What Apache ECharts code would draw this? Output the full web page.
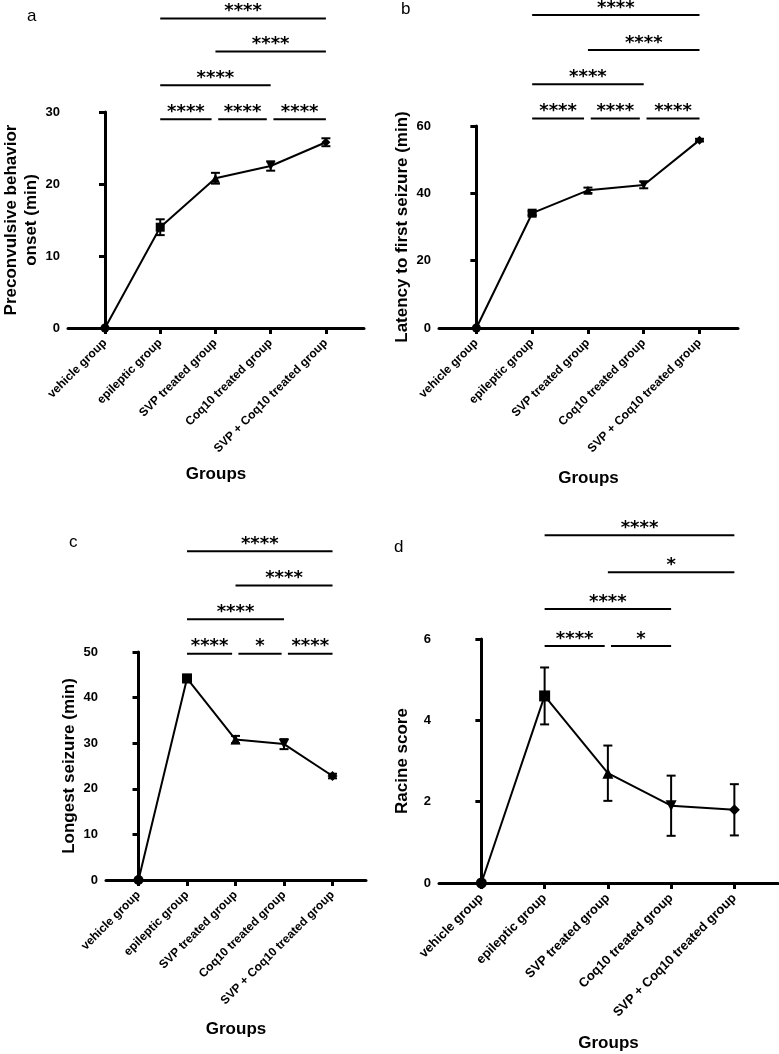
<!DOCTYPE html>
<html>
<head>
<meta charset="utf-8">
<script src="https://cdn.jsdelivr.net/npm/echarts@6/dist/echarts.min.js"></script>
<style>
  html, body { margin: 0; padding: 0; background: #fff; }
  #chart { width: 779px; height: 1054px; }
</style>
</head>
<body>
<div id="chart"></div>
<script>
// groups on the x axis (same for all four panels)
const groups = ['vehicle group', 'epileptic group', 'SVP treated group', 'Coq10 treated group', 'SVP + Coq10 treated group'];
const groupIndex = [0, 1, 2, 3, 4];

// a - preconvulsive behavior onset (min)
const onsetMean = [0, 14.0, 20.8, 22.5, 25.8];
const onsetErr = [0, 1.1, 0.75, 0.65, 0.55];
// b - latency to first seizure (min)
const latencyMean = [0, 34.1, 40.9, 42.5, 55.8];
const latencyErr = [0, 0.6, 0.8, 1.0, 0.4];
// c - longest seizure (min)
const longestMean = [0, 44.2, 30.8, 29.8, 22.8];
const longestErr = [0, 0.8, 0.8, 1.1, 0.5];
// d - racine score
const racineMean = [0, 4.6, 2.7, 1.9, 1.8];
const racineErr = [0, 0.7, 0.68, 0.74, 0.63];

// y axis ranges / tick step
const onsetAxis = [0, 30, 10];
const latencyAxis = [0, 60, 20];
const longestAxis = [0, 50, 10];
const racineAxis = [0, 6, 2];

// significance bars: [from group, to group, height (axis units), stars]
const onsetSig = [
  [1, 1.93, 29.0, '****'], [2.05, 2.93, 29.0, '****'], [3.05, 4, 29.0, '****'],
  [1, 3, 33.7, '****'], [2, 4, 38.4, '****'], [1, 4, 43.0, '****']
];
const latencySig = [
  [1, 1.93, 62.2, '****'], [2.05, 2.93, 62.2, '****'], [3.05, 4, 62.2, '****'],
  [1, 3, 72.4, '****'], [2, 4, 82.6, '****'], [1, 4, 93.0, '****']
];
const longestSig = [
  [1, 1.93, 49.6, '****'], [2.06, 2.95, 49.6, '*'], [3.08, 4, 49.6, '****'],
  [1, 3, 57.2, '****'], [2, 4, 64.6, '****'], [1, 4, 72.1, '****']
];
const racineSig = [
  [1, 1.95, 5.83, '****'], [2.05, 3, 5.83, '*'],
  [1, 3, 6.74, '****'], [2, 4, 7.64, '*'], [1, 4, 8.55, '****']
];

const FONT = 'Liberation Sans, Arial, sans-serif';
const markers = [
  { symbol: 'circle' },
  { symbol: 'rect' },
  { symbol: 'triangle' },
  { symbol: 'triangle', symbolRotate: 180 },
  { symbol: 'diamond' }
];

const panels = [
  { letter: 'a', mean: onsetMean, err: onsetErr, axis: onsetAxis, sig: onsetSig,
    yName: 'Preconvulsive behavior\nonset (min)',
    grid: { left: 66, top: 112, width: 298, height: 216 }, groupsGap: 138,
    letterPos: { left: 22, top: 3 }, sym: 9, labelSize: 12 },
  { letter: 'b', mean: latencyMean, err: latencyErr, axis: latencyAxis, sig: latencySig,
    yName: 'Latency to first seizure (min)',
    grid: { left: 439, top: 126, width: 299, height: 202 }, groupsGap: 142,
    letterPos: { left: 396, top: -4 }, sym: 9, labelSize: 12 },
  { letter: 'c', mean: longestMean, err: longestErr, axis: longestAxis, sig: longestSig,
    yName: 'Longest seizure (min)',
    grid: { left: 106, top: 652, width: 260, height: 228 }, groupsGap: 141,
    letterPos: { left: 64, top: 529 }, sym: 10, labelSize: 12 },
  { letter: 'd', mean: racineMean, err: racineErr, axis: racineAxis, sig: racineSig,
    yName: 'Racine score',
    grid: { left: 439, top: 639, width: 339, height: 244 }, groupsGap: 152,
    letterPos: { left: 389, top: 534 }, sym: 11, labelSize: 13 }
];

function errorBarItem(params, api) {
  const x = api.value(0), y = api.value(1), e = api.value(2);
  if (!e) return null;
  const top = api.coord([x, y + e]);
  const bot = api.coord([x, y - e]);
  const w = 4.5;
  const style = { stroke: '#000', lineWidth: 2 };
  return {
    type: 'group',
    children: [
      { type: 'line', shape: { x1: top[0], y1: top[1], x2: bot[0], y2: bot[1] }, style: style },
      { type: 'line', shape: { x1: top[0] - w, y1: top[1], x2: top[0] + w, y2: top[1] }, style: style },
      { type: 'line', shape: { x1: bot[0] - w, y1: bot[1], x2: bot[0] + w, y2: bot[1] }, style: style }
    ]
  };
}

function sigRenderer(pairs) {
  return function (params, api) {
    const p1 = api.coord([api.value(0), api.value(2)]);
    const p2 = api.coord([api.value(1), api.value(2)]);
    return {
      type: 'group',
      children: [
        { type: 'line', shape: { x1: p1[0], y1: p1[1], x2: p2[0], y2: p2[1] },
          style: { stroke: '#000', lineWidth: 2 } },
        { type: 'text', x: (p1[0] + p2[0]) / 2, y: p1[1] + 2,
          style: { text: pairs[params.dataIndex][3], fill: '#000', fontSize: 18, fontWeight: 'bold',
                   fontFamily: 'DejaVu Sans', align: 'center', verticalAlign: 'bottom' } }
      ]
    };
  };
}

const option = {
  animation: false,
  backgroundColor: '#fff',
  title: panels.map(p => ({
    text: p.letter, left: p.letterPos.left, top: p.letterPos.top,
    textStyle: { fontSize: 17, fontWeight: 'normal', color: '#000', fontFamily: FONT }
  })),
  grid: panels.map(p => p.grid),
  xAxis: panels.map((p, i) => ({
    type: 'value', gridIndex: i, min: -0.67, max: 4.69,
    name: 'Groups', nameLocation: 'middle', nameGap: p.groupsGap,
    nameTextStyle: { fontSize: 17, fontWeight: 'bold', color: '#000', fontFamily: FONT },
    axisLine: { show: true, onZero: false, lineStyle: { color: '#000', width: 3 } },
    axisTick: { show: true, length: 6, customValues: groupIndex, lineStyle: { color: '#000', width: 3 } },
    axisLabel: {
      customValues: groupIndex, rotate: 45, margin: 13,
      fontSize: p.labelSize, fontWeight: 'bold', color: '#000', fontFamily: FONT,
      formatter: v => groups[Math.round(v)] || ''
    },
    splitLine: { show: false }
  })),
  yAxis: panels.map((p, i) => ({
    type: 'value', gridIndex: i, min: p.axis[0], max: p.axis[1], interval: p.axis[2],
    name: p.yName, nameLocation: 'middle', nameRotate: 90, nameGap: 27,
    nameTextStyle: { fontSize: 17, fontWeight: 'bold', color: '#000', fontFamily: FONT, lineHeight: 20 },
    axisLine: { show: true, lineStyle: { color: '#000', width: 3 } },
    axisTick: { show: true, length: 6, lineStyle: { color: '#000', width: 3 } },
    axisLabel: { fontSize: 13, fontWeight: 'bold', color: '#000', fontFamily: FONT, margin: 8 },
    splitLine: { show: false }
  })),
  series: panels.flatMap((p, i) => [
    {
      type: 'custom', xAxisIndex: i, yAxisIndex: i,
      renderItem: errorBarItem,
      encode: { x: 0, y: 1 },
      data: groupIndex.map(g => [g, p.mean[g], p.err[g]])
    },
    {
      type: 'line', xAxisIndex: i, yAxisIndex: i,
      symbolSize: p.sym,
      lineStyle: { color: '#000', width: 2 },
      itemStyle: { color: '#000' },
      data: groupIndex.map(g => Object.assign({ value: [g, p.mean[g]] }, markers[g])),
      z: 3
    },
    {
      type: 'custom', xAxisIndex: i, yAxisIndex: i,
      renderItem: sigRenderer(p.sig),
      encode: { x: [0, 1], y: 2 },
      data: p.sig.map(s => [s[0], s[1], s[2]]),
      clip: false
    }
  ])
};

const chart = echarts.init(document.getElementById('chart'));
chart.setOption(option);
window.addEventListener('resize', () => chart.resize());
</script>
</body>
</html>
